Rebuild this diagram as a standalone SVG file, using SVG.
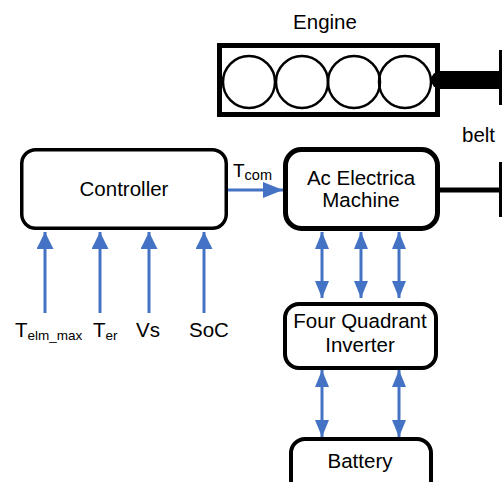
<svg xmlns="http://www.w3.org/2000/svg" width="502" height="482" viewBox="0 0 502 482">
<style>
text{font-family:"Liberation Sans",Arial,sans-serif;fill:#000}
.lbl{font-size:20.5px;text-anchor:middle}
.box{fill:#fff;stroke:#000}
.blue{stroke:#4472C4;stroke-width:3;fill:none}
.sub{font-size:13.5px}
</style>
<defs>
<marker id="ah" markerUnits="userSpaceOnUse" markerWidth="18" markerHeight="18" refX="17" refY="8.5" orient="auto-start-reverse">
<path d="M0,0 L17,8.5 L0,17 z" fill="#4472C4"/>
</marker>
<marker id="ah2" markerUnits="userSpaceOnUse" markerWidth="18" markerHeight="14" refX="17" refY="7" orient="auto-start-reverse">
<path d="M0,0 L17,7 L0,14 z" fill="#4472C4"/>
</marker>
<marker id="ah3" markerUnits="userSpaceOnUse" markerWidth="21" markerHeight="16" refX="20" refY="8" orient="auto">
<path d="M0,0 L20,8 L0,16 z" fill="#4472C4"/>
</marker>
</defs>
<rect width="502" height="482" fill="#fff"/>
<g id="engine">
<text class="lbl" x="325" y="29">Engine</text>
<rect x="219.5" y="45.5" width="218" height="69" fill="#fff" stroke="#000" stroke-width="5"/>
<g fill="none" stroke="#000" stroke-width="2.5">
<circle cx="249" cy="82" r="26"/>
<circle cx="302" cy="82" r="26"/>
<circle cx="354" cy="82" r="26"/>
<circle cx="405" cy="82" r="26"/>
</g>
</g>
<g id="controller">
<rect class="box" x="21.75" y="149.75" width="204.5" height="78.5" rx="14" stroke-width="3.5"/>
<text class="lbl" x="124" y="196">Controller</text>
</g>
<g id="ac-machine">
<rect class="box" x="285.5" y="149.5" width="152" height="79" rx="16" stroke-width="5"/>
<text class="lbl" x="361" y="185">Ac Electrica</text>
<text class="lbl" x="361" y="207">Machine</text>
</g>
<g id="inverter">
<rect class="box" x="285" y="304" width="151" height="64" rx="14" stroke-width="4"/>
<text class="lbl" x="360" y="328">Four Quadrant</text>
<text class="lbl" x="360" y="352">Inverter</text>
</g>
<g id="battery">
<rect class="box" x="291" y="439" width="140" height="60" rx="14" stroke-width="4"/>
<text class="lbl" x="360" y="468">Battery</text>
</g>
<g id="inputs">
<text x="15" y="337" font-size="20.5">T<tspan class="sub" dy="3">elm_max</tspan></text>
<text x="93" y="337" font-size="20.5">T<tspan class="sub" dy="3">er</tspan></text>
<text x="136" y="337" font-size="20.5">Vs</text>
<text x="189" y="337" font-size="20.5">SoC</text>
</g>
<g id="connectors">
<line class="blue" x1="45" y1="313" x2="45" y2="232" marker-end="url(#ah)"/>
<line class="blue" x1="100" y1="313" x2="100" y2="232" marker-end="url(#ah)"/>
<line class="blue" x1="149" y1="313" x2="149" y2="232" marker-end="url(#ah)"/>
<line class="blue" x1="204" y1="313" x2="204" y2="232" marker-end="url(#ah)"/>
<line class="blue" x1="228" y1="190" x2="283" y2="190" marker-end="url(#ah3)"/>
<text x="233" y="177" font-size="19">T<tspan font-size="14.5px" dy="3">com</tspan></text>
<line class="blue" x1="322" y1="232" x2="322" y2="298" marker-start="url(#ah2)" marker-end="url(#ah2)"/>
<line class="blue" x1="361" y1="232" x2="361" y2="298" marker-start="url(#ah2)" marker-end="url(#ah2)"/>
<line class="blue" x1="399" y1="232" x2="399" y2="298" marker-start="url(#ah2)" marker-end="url(#ah2)"/>
<line class="blue" x1="322" y1="370" x2="322" y2="437" marker-start="url(#ah2)" marker-end="url(#ah2)"/>
<line class="blue" x1="399" y1="370" x2="399" y2="437" marker-start="url(#ah2)" marker-end="url(#ah2)"/>
<line x1="440" y1="80" x2="500" y2="80" stroke="#000" stroke-width="18"/>
<circle cx="440" cy="80" r="9" fill="#000"/>
<line x1="500.5" y1="50" x2="500.5" y2="105" stroke="#000" stroke-width="3"/>
<line x1="440" y1="190" x2="500" y2="190" stroke="#000" stroke-width="5"/>
<line x1="500.5" y1="162" x2="500.5" y2="217" stroke="#000" stroke-width="3"/>
<text x="462" y="142" font-size="20.5">belt</text>
</g>
</svg>
